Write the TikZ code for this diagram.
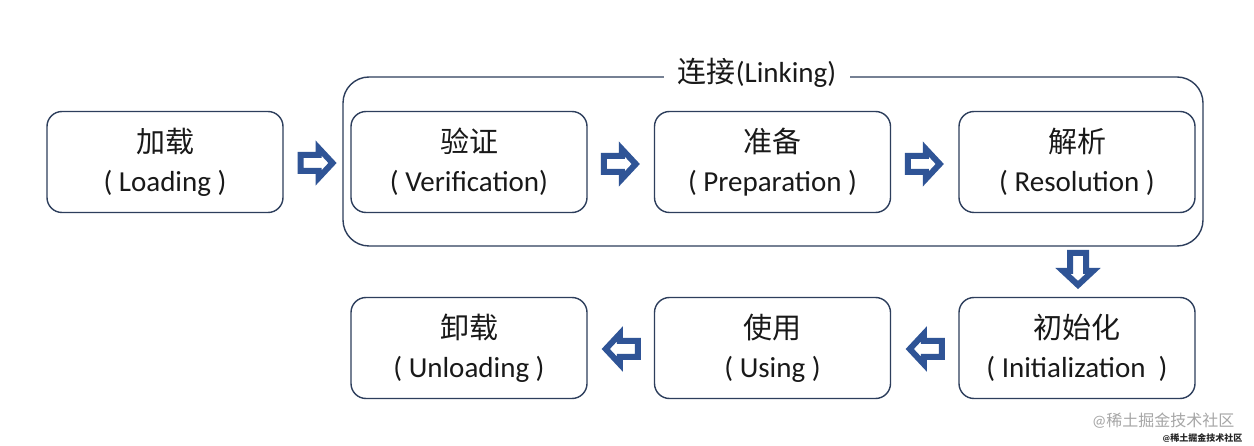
\documentclass[tikz,border=0pt]{standalone}
\usepackage{fontspec}
\setmainfont{Carlito}
\newfontfamily\cjk{Noto Sans CJK SC}[FakeBold=0]
\usetikzlibrary{calc}
\definecolor{boxline}{RGB}{45,62,92}
\definecolor{arrowblue}{RGB}{47,84,150}
\definecolor{txt}{RGB}{25,25,25}
\tikzset{
  stage/.style={draw=boxline, line width=1.4pt, rounded corners=15pt, fill=white,
    minimum width=236pt, minimum height=101pt, inner sep=0pt, align=center,
    text=txt, font=\fontsize{29}{39}\selectfont},
  linkbox/.style={draw=boxline, line width=1.4pt, rounded corners=26pt},
  hollow/.style={draw=arrowblue, fill=white, line width=6pt, line join=miter},
  blockarrow/.pic={
    \path[hollow] (-17,-8) -- (1,-8) -- (1,-15) -- (15,0) -- (1,15) -- (1,8) -- (-17,8) -- cycle;
  }
}
\begin{document}
\begin{tikzpicture}[x=1pt,y=-1pt]
\useasboundingbox[fill=white] (0,0) rectangle (1254,446);
% linking container
\draw[linkbox] (343,77) rectangle (1203,246);
\node[fill=white, inner xsep=14pt, inner ysep=2pt, text=txt,
  font=\fontsize{29}{32}\selectfont] (linklbl) at (757,73) {{\cjk 连接}(Linking)};
% stages
\node[stage] (load) at (165,162) {{\cjk 加载}\\( Loading )};
\node[stage] (ver)  at (469,162) {{\cjk 验证}\\( Verification)};
\node[stage] (prep) at (772.5,162) {{\cjk 准备}\\( Preparation )};
\node[stage] (res)  at (1077,162) {{\cjk 解析}\\( Resolution )};
\node[stage] (init) at (1077,348) {{\cjk 初始化}\\( Initialization\ \ )};
\node[stage] (use)  at (772.5,348) {{\cjk 使用}\\( Using )};
\node[stage] (unl)  at (469,348) {{\cjk 卸载}\\( Unloading )};
% block arrows
\coordinate (a1) at (317.5,163);
\coordinate (a2) at ($(ver.east)!0.5!(prep.west)+(0,2)$);
\coordinate (a3) at ($(prep.east)!0.5!(res.west)+(0,2)$);
\coordinate (a4) at (1078,270);
\coordinate (a5) at ($(init.west)!0.5!(use.east)+(0,1)$);
\coordinate (a6) at ($(use.west)!0.5!(unl.east)+(0,1)$);
\pic at (a1) {blockarrow};
\pic at (a2) {blockarrow};
\pic at (a3) {blockarrow};
\pic[rotate=-90] at (a4) {blockarrow};
\pic[rotate=180] at (a5) {blockarrow};
\pic[rotate=180] at (a6) {blockarrow};
% watermark
\node[text=black!35, font=\fontsize{16}{18}\selectfont, anchor=east] (wm) at (1238,421) {@{\cjk 稀土掘金技术社区}};
\node[text=black!85, font=\fontsize{9}{10}\bfseries\selectfont, anchor=east] (wm2) at (1246,438) {@{\cjk 稀土掘金技术社区}};
\end{tikzpicture}
\end{document}
